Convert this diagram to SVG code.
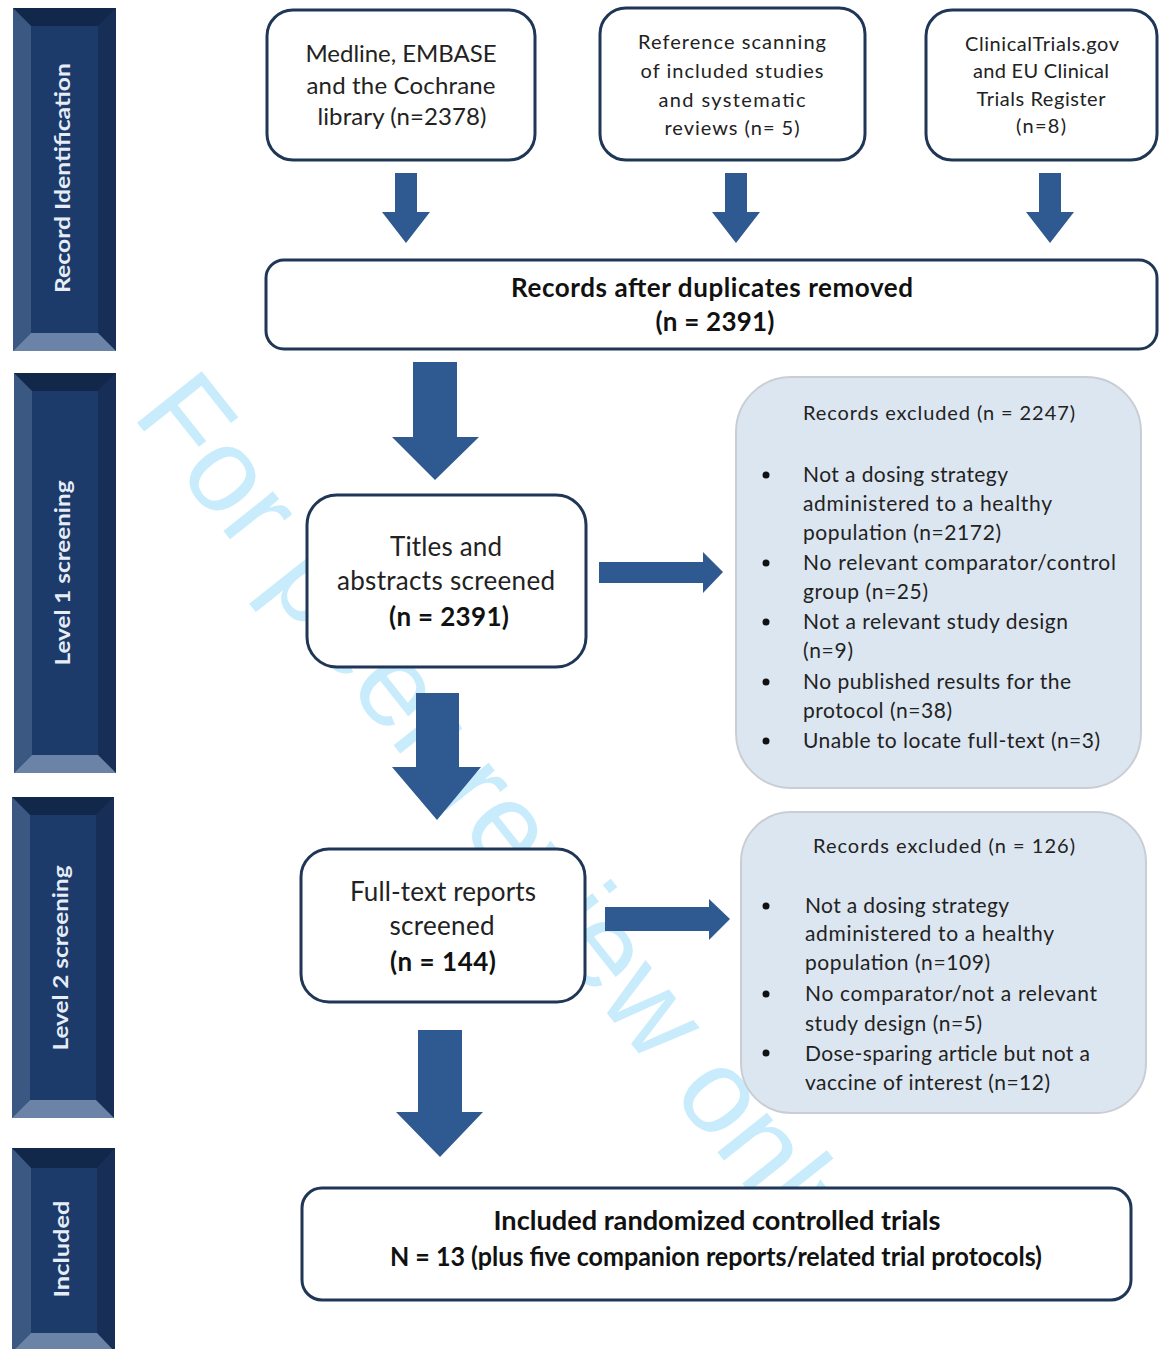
<svg xmlns="http://www.w3.org/2000/svg" width="1160" height="1349" viewBox="0 0 1160 1349">
<style>
.bg{fill:#ffffff}
.wm{font-family:"Liberation Sans",Arial,sans-serif;font-size:120px;fill:#c8ecfb}
.box{fill:#ffffff;stroke:#1f3656;stroke-width:3}
.excl{fill:#dce6f1;stroke:#c9ced5;stroke-width:2}
.arrow{fill:#2f5a91}
.t{font-family:Lato,"Liberation Sans",sans-serif;fill:#222222}
.c{text-anchor:middle}
.b{font-weight:bold;fill:#111111}
.s24{font-size:24px}
.s19{font-size:20px}
.s26{font-size:26px}
.s20{font-size:21px}
.bar-out{fill:#17305a}
.bar-top{fill:#12284a}
.bar-left{fill:#3b5883}
.bar-right{fill:#172f57}
.bar-bot{fill:#6b83a7}
.bar-in{fill:#1c3b6b}
.bt{font-family:Lato,"Liberation Sans",sans-serif;font-weight:bold;font-size:21px;fill:#e6edf6;text-anchor:middle}
.dot{fill:#111111}
</style>
<rect class="bg" x="0" y="0" width="1160" height="1349"/>

<!-- watermark -->
<text class="wm" transform="translate(131,415) rotate(51.5)">For peer review only</text>

<!-- side bars -->
<g id="bar-identification">
  <rect class="bar-out" x="13" y="8" width="103" height="343"/>
  <polygon class="bar-top" points="13,8 116,8 98,26 31,26"/>
  <polygon class="bar-left" points="13,8 31,26 31,333 13,351"/>
  <polygon class="bar-right" points="116,8 116,351 98,333 98,26"/>
  <polygon class="bar-bot" points="13,351 31,333 98,333 116,351"/>
  <rect class="bar-in" x="31" y="26" width="67" height="307"/>
  <text class="bt" transform="translate(70,178) rotate(-90)" textLength="230" lengthAdjust="spacingAndGlyphs">Record Identification</text>
</g>
<g id="bar-level1">
  <rect class="bar-out" x="14" y="373" width="102" height="400"/>
  <polygon class="bar-top" points="14,373 116,373 98,391 32,391"/>
  <polygon class="bar-left" points="14,373 32,391 32,755 14,773"/>
  <polygon class="bar-right" points="116,373 116,773 98,755 98,391"/>
  <polygon class="bar-bot" points="14,773 32,755 98,755 116,773"/>
  <rect class="bar-in" x="32" y="391" width="66" height="364"/>
  <text class="bt" transform="translate(70,573) rotate(-90)" textLength="185" lengthAdjust="spacingAndGlyphs">Level 1 screening</text>
</g>
<g id="bar-level2">
  <rect class="bar-out" x="12" y="797" width="102" height="321"/>
  <polygon class="bar-top" points="12,797 114,797 96,815 30,815"/>
  <polygon class="bar-left" points="12,797 30,815 30,1100 12,1118"/>
  <polygon class="bar-right" points="114,797 114,1118 96,1100 96,815"/>
  <polygon class="bar-bot" points="12,1118 30,1100 96,1100 114,1118"/>
  <rect class="bar-in" x="30" y="815" width="66" height="285"/>
  <text class="bt" transform="translate(68,958) rotate(-90)" textLength="185" lengthAdjust="spacingAndGlyphs">Level 2 screening</text>
</g>
<g id="bar-included">
  <rect class="bar-out" x="12" y="1148" width="103" height="220"/>
  <polygon class="bar-top" points="12,1148 115,1148 97,1168 31,1168"/>
  <polygon class="bar-left" points="12,1148 31,1168 31,1333 12,1352"/>
  <polygon class="bar-right" points="115,1148 115,1352 97,1333 97,1168"/>
  <polygon class="bar-bot" points="12,1352 31,1333 97,1333 115,1352"/>
  <rect class="bar-in" x="31" y="1168" width="66" height="165"/>
  <text class="bt" transform="translate(69,1249) rotate(-90)" textLength="97" lengthAdjust="spacingAndGlyphs">Included</text>
</g>

<!-- connectors -->
<g id="connectors">
  <polygon class="arrow" points="395,173 417,173 417,212 430,212 406,243 382,212 395,212"/>
  <polygon class="arrow" points="725,173 747,173 747,212 760,212 736,243 712,212 725,212"/>
  <polygon class="arrow" points="1039,173 1061,173 1061,212 1074,212 1050,243 1026,212 1039,212"/>
  <polygon class="arrow" points="413,362 457,362 457,437 479,437 435,480 392,437 413,437"/>
  <polygon class="arrow" points="416,693 459,693 459,767 481,767 437,820 392,767 416,767"/>
  <polygon class="arrow" points="418,1030 462,1030 462,1112 483,1112 440,1157 396,1112 418,1112"/>
  <polygon class="arrow" points="599,562 703,562 703,552 723,572 703,593 703,583 599,583"/>
  <polygon class="arrow" points="605,907 709,907 709,899 730,919 709,940 709,931 605,931"/>
</g>

<!-- nodes -->
<g id="node-medline">
  <rect class="box" x="267" y="10" width="268" height="150" rx="26"/>
  <text class="t c s24" x="401" y="62" textLength="191">Medline, EMBASE</text>
  <text class="t c s24" x="401" y="94" textLength="189">and the Cochrane</text>
  <text class="t c s24" x="402" y="125" textLength="169">library (n=2378)</text>
</g>
<g id="node-reference">
  <rect class="box" x="600" y="8" width="265" height="152" rx="26"/>
  <text class="t c s19" x="732" y="49" textLength="188">Reference scanning</text>
  <text class="t c s19" x="732" y="78" textLength="183">of included studies</text>
  <text class="t c s19" x="732" y="107" textLength="147">and systematic</text>
  <text class="t c s19" x="732" y="135" textLength="135">reviews (n= 5)</text>
</g>
<g id="node-registers">
  <rect class="box" x="926" y="10" width="231" height="150" rx="26"/>
  <text class="t c s19" x="1042" y="51" textLength="154">ClinicalTrials.gov</text>
  <text class="t c s19" x="1041" y="78" textLength="136">and EU Clinical</text>
  <text class="t c s19" x="1041" y="106" textLength="129">Trials Register</text>
  <text class="t c s19" x="1041" y="133" textLength="50">(n=8)</text>
</g>
<g id="node-duplicates">
  <rect class="box" x="266" y="260" width="891" height="89" rx="18"/>
  <text class="t c b s26" x="712" y="297" textLength="402">Records after duplicates removed</text>
  <text class="t c b s26" x="715" y="331" textLength="119">(n = 2391)</text>
</g>
<g id="node-titles">
  <rect class="box" x="307" y="495" width="279" height="172" rx="30"/>
  <text class="t c s26" x="446" y="556" textLength="112">Titles and</text>
  <text class="t c s26" x="446" y="590" textLength="218">abstracts screened</text>
  <text class="t c b s26" x="449" y="626" textLength="120">(n = 2391)</text>
</g>
<g id="node-excluded1">
  <rect class="excl" x="736" y="377" width="405" height="411" rx="55"/>
  <text class="t s19" x="803" y="420" textLength="272">Records excluded (n = 2247)</text>
  <circle class="dot" cx="766" cy="475" r="3.5"/>
  <circle class="dot" cx="766" cy="563" r="3.5"/>
  <circle class="dot" cx="766" cy="622" r="3.5"/>
  <circle class="dot" cx="766" cy="682" r="3.5"/>
  <circle class="dot" cx="766" cy="741" r="3.5"/>
  <text class="t s20" x="803" y="482" textLength="205">Not a dosing strategy</text>
  <text class="t s20" x="803" y="511" textLength="249">administered to a healthy</text>
  <text class="t s20" x="803" y="540" textLength="198">population (n=2172)</text>
  <text class="t s20" x="803" y="570" textLength="313">No relevant comparator/control</text>
  <text class="t s20" x="803" y="599" textLength="125">group (n=25)</text>
  <text class="t s20" x="803" y="629" textLength="265">Not a relevant study design</text>
  <text class="t s20" x="803" y="658" textLength="50">(n=9)</text>
  <text class="t s20" x="803" y="689" textLength="268">No published results for the</text>
  <text class="t s20" x="803" y="718" textLength="149">protocol (n=38)</text>
  <text class="t s20" x="803" y="748" textLength="297">Unable to locate full-text (n=3)</text>
</g>
<g id="node-fulltext">
  <rect class="box" x="301" y="849" width="284" height="153" rx="28"/>
  <text class="t c s26" x="443" y="901" textLength="186">Full-text reports</text>
  <text class="t c s26" x="442" y="935" textLength="105">screened</text>
  <text class="t c b s26" x="443" y="971" textLength="106">(n = 144)</text>
</g>
<g id="node-excluded2">
  <rect class="excl" x="741" y="812" width="405" height="301" rx="50"/>
  <text class="t s19" x="813" y="853" textLength="262">Records excluded (n = 126)</text>
  <circle class="dot" cx="766" cy="906" r="3.5"/>
  <circle class="dot" cx="766" cy="994" r="3.5"/>
  <circle class="dot" cx="766" cy="1053" r="3.5"/>
  <text class="t s20" x="805" y="913" textLength="204">Not a dosing strategy</text>
  <text class="t s20" x="805" y="941" textLength="249">administered to a healthy</text>
  <text class="t s20" x="805" y="970" textLength="185">population (n=109)</text>
  <text class="t s20" x="805" y="1001" textLength="292">No comparator/not a relevant</text>
  <text class="t s20" x="805" y="1031" textLength="177">study design (n=5)</text>
  <text class="t s20" x="805" y="1061" textLength="285">Dose-sparing article but not a</text>
  <text class="t s20" x="805" y="1090" textLength="245">vaccine of interest (n=12)</text>
</g>
<g id="node-included">
  <rect class="box" x="302" y="1188" width="829" height="112" rx="20"/>
  <text class="t c b s26" x="717" y="1230" textLength="447" lengthAdjust="spacingAndGlyphs">Included randomized controlled trials</text>
  <text class="t c b s26" x="716" y="1266" textLength="652" lengthAdjust="spacingAndGlyphs">N = 13 (plus five companion reports/related trial protocols)</text>
</g>
</svg>
